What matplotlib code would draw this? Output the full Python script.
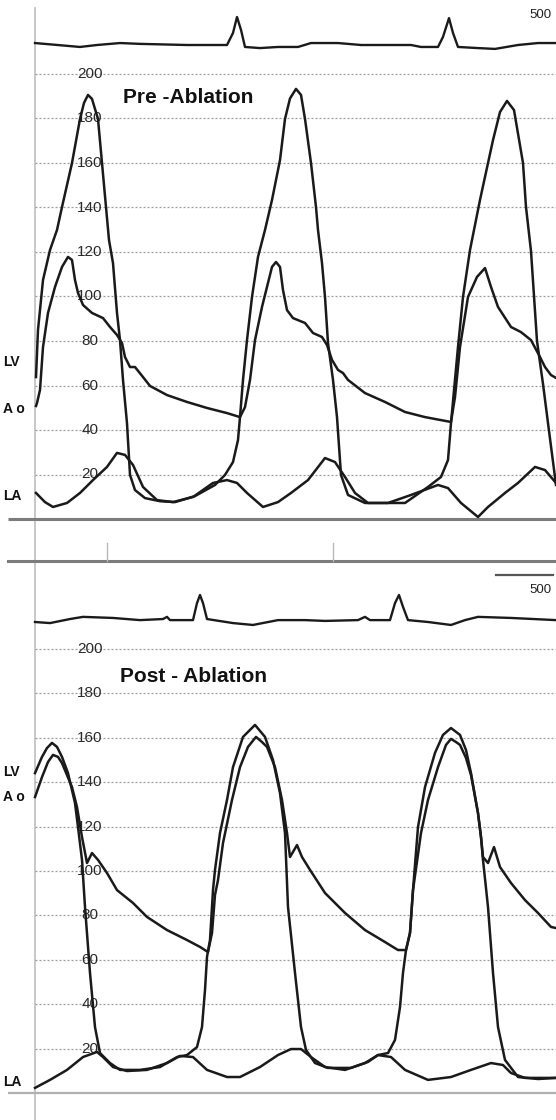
import matplotlib
matplotlib.use("Agg")
import matplotlib.pyplot as plt

plt.rcParams['font.family'] = ['Liberation Sans', 'DejaVu Sans']

# ---------------- DATA (time in samples, pressure in mmHg, ECG in mV) ----------------
pressure_ticks = [20, 40, 60, 80, 100, 120, 140, 160, 180, 200]

# Pre-ablation
pre_lv_t = [36, 38, 43, 50, 57, 62, 72, 80, 84, 88, 92, 98, 102, 106, 109, 113, 117, 120, 123, 127, 130, 135, 145, 160, 175, 195, 215, 225, 233, 238,
            240, 243, 247, 252, 258, 265, 272, 280, 285, 290, 296, 301, 305, 311, 316, 318, 322, 325, 328, 333, 337, 341, 348, 365, 385, 405, 428, 441, 448,
            451, 458, 463, 470, 480, 493, 500, 507, 514, 523, 526, 531, 534, 537, 543, 549, 556]
pre_lv_p = [63.8, 85.0, 107.4, 120.9, 129.9, 140.2, 160.0, 179.8, 187.0, 190.6, 188.8, 179.8, 160.0, 140.2, 125.4, 115.0, 92.6, 80.4, 62.5, 43.0, 19.8, 13.0, 9.4, 8.0, 7.6, 10.3, 15.3, 19.8, 25.6, 35.5,
            45.8, 62.5, 80.4, 99.8, 117.8, 129.9, 143.4, 161.3, 179.8, 189.0, 193.3, 190.6, 179.8, 160.0, 140.2, 129.9, 115.0, 99.8, 79.1, 62.5, 45.8, 19.8, 10.8, 7.2, 7.2, 7.2, 14.4, 18.9, 26.5,
            43.1, 77.3, 99.8, 120.9, 143.4, 170.3, 182.9, 187.9, 183.8, 160.0, 140.2, 120.4, 100.2, 80.0, 60.7, 39.6, 15.3]

pre_ao_t = [36, 37, 40, 43, 48, 55, 62, 68, 72, 75, 78, 83, 92, 103, 110, 117, 122, 125, 130, 135, 143, 150, 167, 187, 207, 227, 240,
            245, 250, 255, 262, 267, 272, 276, 280, 283, 287, 293, 305, 313, 322, 327, 332, 338, 343, 348, 365, 385, 405, 425, 451,
            455, 460, 468, 477, 485, 491, 498, 511, 521, 531, 540, 545, 551, 556]
pre_ao_p = [50.8, 52.1, 58.0, 77.3, 92.6, 104.3, 113.3, 117.8, 116.4, 107.4, 101.6, 96.2, 92.6, 90.3, 86.3, 82.7, 79.1, 72.8, 68.3, 68.3, 63.8, 59.8, 55.7, 52.6, 49.9, 47.6, 45.8,
            50.3, 62.5, 80.4, 95.3, 104.3, 113.3, 115.5, 113.3, 102.9, 93.9, 90.3, 88.1, 83.6, 81.8, 78.2, 71.5, 67.0, 65.6, 62.5, 56.6, 52.6, 48.1, 45.8, 43.6,
            54.8, 77.3, 99.8, 108.8, 112.8, 104.3, 95.3, 86.3, 84.0, 80.4, 72.8, 68.3, 64.7, 63.4]

pre_la_t = [36, 45, 53, 67, 80, 93, 107, 117, 125, 133, 143, 157, 173, 193, 213, 227, 237, 247, 263, 278, 291, 308, 325, 335, 345, 355,
            368, 388, 411, 438, 448, 461, 478, 488, 505, 518, 535, 545, 556]
pre_la_p = [11.7, 7.6, 5.4, 7.2, 11.7, 17.5, 23.4, 29.7, 28.8, 24.3, 14.4, 8.5, 7.6, 9.9, 16.2, 17.5, 16.2, 11.7, 5.4, 7.6, 11.7, 17.5, 27.4, 25.6, 18.9, 11.7,
            7.2, 7.2, 10.8, 15.3, 13.9, 7.2, 0.9, 5.4, 11.7, 16.2, 23.4, 22.0, 16.2]

pre_ecg_t = [35, 80, 97, 120, 140, 187, 227, 233, 237, 241, 245, 260, 278, 298, 311, 338, 361, 411, 421, 438, 443, 449, 453, 458, 478, 495, 518, 538, 556]
pre_ecg_mv = [0.07, -0.07, 0.0, 0.07, 0.04, 0.0, 0.0, 0.43, 1.0, 0.54, -0.07, -0.11, -0.07, -0.07, 0.07, 0.07, 0.0, 0.0, -0.07, -0.07, 0.29, 0.96, 0.43, -0.07, -0.11, -0.14, 0.0, 0.07, 0.07]

# Post-ablation
post_lv_t = [35, 42, 47, 52, 57, 62, 68, 75, 78, 82, 85, 90, 95, 100, 110, 120, 140, 160, 177, 187, 197, 202, 205, 207, 210, 213, 215, 220, 227, 233,
             243, 255, 265, 273, 280, 285, 288, 295, 301, 306, 315, 328, 351, 368, 378, 388, 395, 400, 403, 406, 410, 413, 418, 425, 435,
             443, 451, 460, 466, 471, 478, 481, 483, 488, 493, 498, 505, 518, 538, 556]
post_lv_p = [144.1, 151.4, 155.4, 157.7, 155.9, 151.4, 144.1, 130.6, 119.8, 105.0, 83.8, 54.1, 29.7, 18.0, 13.5, 10.4, 10.4, 11.7, 16.2, 17.1, 20.7, 29.7, 46.4, 61.3, 68.9, 91.4, 100.5, 117.1, 132.0, 146.8,
             160.4, 165.8, 160.4, 150.0, 135.1, 117.1, 83.8, 54.1, 29.7, 19.4, 13.5, 11.3, 11.3, 14.0, 17.1, 18.0, 23.9, 38.7, 54.1, 64.4, 72.1, 91.4, 119.8, 137.8, 153.2,
             161.3, 164.4, 161.3, 154.5, 144.1, 126.1, 115.3, 105.0, 83.8, 54.1, 29.7, 14.9, 7.2, 6.3, 6.8]

post_ao_t = [35, 42, 48, 53, 58, 62, 72, 77, 82, 87, 92, 98, 107, 117, 133, 147, 167, 187, 200, 208, 212, 215, 218, 223, 232, 240, 248,
             256, 262, 267, 275, 282, 287, 290, 293, 297, 302, 310, 325, 345, 365, 385, 398, 406, 410, 413, 421, 428, 438, 446,
             451, 456, 460, 466, 471, 478, 481, 483, 488, 494, 500, 511, 525, 538, 551, 556]
post_ao_p = [133.3, 142.3, 149.1, 152.3, 151.4, 148.6, 137.8, 128.8, 115.3, 103.6, 108.1, 105.0, 99.1, 91.4, 85.6, 79.3, 73.4, 68.9, 65.8, 63.5, 72.1, 89.2, 95.9, 112.6, 132.0, 146.8, 155.9,
             160.4, 158.1, 155.9, 146.8, 132.0, 117.1, 106.3, 108.6, 111.7, 106.3, 100.5, 90.1, 81.1, 73.4, 68.0, 64.4, 64.4, 72.1, 91.4, 117.1, 132.0, 146.8, 156.8,
             159.5, 158.1, 156.8, 150.9, 143.2, 126.1, 115.3, 106.3, 103.6, 110.8, 101.8, 94.6, 86.9, 81.1, 74.8, 74.3]

post_la_t = [35, 50, 67, 83, 97, 103, 113, 127, 147, 167, 180, 193, 207, 227, 240, 260, 278, 291, 301, 311, 325, 345, 365, 378, 391, 405,
             428, 451, 471, 491, 503, 511, 525, 556]
post_la_p = [2.3, 5.9, 10.4, 16.2, 18.5, 16.2, 11.7, 9.9, 10.4, 13.5, 16.7, 16.2, 10.4, 7.2, 7.2, 11.7, 17.1, 19.8, 19.8, 16.2, 11.7, 10.4, 13.5, 17.1, 16.2, 10.4,
             5.9, 7.2, 10.4, 13.5, 12.6, 9.0, 6.8, 6.8]

post_ecg_t = [35, 50, 70, 83, 113, 140, 163, 167, 170, 193, 197, 200, 203, 207, 233, 253, 278, 305, 325, 358, 365, 370, 390, 395, 399, 403, 408, 428, 451, 465, 478, 511, 556]
post_ecg_mv = [0.0, -0.04, 0.11, 0.19, 0.15, 0.07, 0.11, 0.19, 0.07, 0.07, 0.7, 1.0, 0.7, 0.11, -0.04, -0.11, 0.07, 0.07, 0.04, 0.07, 0.19, 0.07, 0.07, 0.7, 1.0, 0.56, 0.07, 0.0, -0.11, 0.07, 0.19, 0.15, 0.07]

panel_titles = ["Pre -Ablation", "Post - Ablation"]
trace_labels = ["LV", "A o", "LA"]
scale_label = "500"

# ---------------- FIGURE ----------------
W, H = 556, 1120
fig = plt.figure(figsize=(W / 100, H / 100), dpi=100)
fig.patch.set_facecolor('white')

def frac(y_top, y_bot):
    return [0, (H - y_bot) / H, 1, (y_bot - y_top) / H]

# background / frame axes in pixel units
bg = fig.add_axes([0, 0, 1, 1], zorder=0)
bg.set_xlim(0, W)
bg.set_ylim(H, 0)
bg.axis('off')

LINE = '#1a1a1a'
GRID = '#9c9c9c'

# vertical axis line
bg.plot([35, 35], [8, H], color='#c4c4c4', lw=1.3)
# separator lines between panels
bg.plot([8, W], [561, 561], color='#7c7c7c', lw=2.2)
for xt in (107, 333):
    bg.plot([xt, xt], [543, 561], color='#b8b8b8', lw=1.0)
# scale bar bottom panel
bg.plot([496, 553], [575, 575], color='#555555', lw=1.6)
bg.text(529, 15, scale_label, fontsize=9.5, color='#222', ha='left', va='center')
bg.text(529, 590, scale_label, fontsize=9.5, color='#222', ha='left', va='center')


def pressure_panel(y_top, y_bot, px_per_mmHg, lv, ao, la, title, title_xy, lab_y, base_color, base_lw):
    ax = fig.add_axes(frac(y_top, y_bot), zorder=2)
    ax.set_xlim(0, W)
    ax.set_ylim(0, (y_bot - y_top) / px_per_mmHg)
    ax.patch.set_alpha(0)
    ax.axis('off')
    for v in pressure_ticks:
        ax.plot([35, W], [v, v], color=GRID, lw=0.9, ls=(0, (1.6, 1.6)), zorder=1)
        ax.text(90, v, str(v), fontsize=11, color='#2a2a2a', ha='center', va='center', zorder=2)
    ax.plot([8, W], [0, 0], color=base_color, lw=base_lw, zorder=1, solid_capstyle='butt', clip_on=False)
    for t, p in (lv, ao, la):
        ax.plot(t, p, color=LINE, lw=1.8, zorder=3, clip_on=False, solid_joinstyle='round')
    ax.text(title_xy[0], title_xy[1], title, fontsize=15, fontweight='bold', color='#111',
            ha='left', va='center', zorder=4)
    for lab, yv in zip(trace_labels, lab_y):
        ax.text(3, yv, lab, fontsize=10, fontweight='bold', color='#111', ha='left', va='center', zorder=4)
    return ax


def ecg_panel(y_top, y_bot, base_px, px_per_mv, t, mv):
    ax = fig.add_axes(frac(y_top, y_bot), zorder=2)
    ax.set_xlim(0, W)
    ax.set_ylim(-(y_bot - base_px) / px_per_mv, (base_px - y_top) / px_per_mv)
    ax.patch.set_alpha(0)
    ax.axis('off')
    ax.plot(t, mv, color=LINE, lw=1.7, clip_on=False)
    return ax


# Pre-ablation
ecg_panel(0, 60, 45, 28, pre_ecg_t, pre_ecg_mv)
pressure_panel(62, 519, 2.225, (pre_lv_t, pre_lv_p), (pre_ao_t, pre_ao_p), (pre_la_t, pre_la_p),
               panel_titles[0], (123, 189.5), (70.5, 49.5, 10.5), '#7c7c7c', 2.2)

# Post-ablation
ecg_panel(570, 640, 622, 27, post_ecg_t, post_ecg_mv)
pressure_panel(637, 1093, 2.22, (post_lv_t, post_lv_p), (post_ao_t, post_ao_p), (post_la_t, post_la_p),
               panel_titles[1], (120, 187.5), (144.5, 133.5, 5.0), '#b0b0b0', 1.6)

fig.savefig('out.png', dpi=100, facecolor='white')
